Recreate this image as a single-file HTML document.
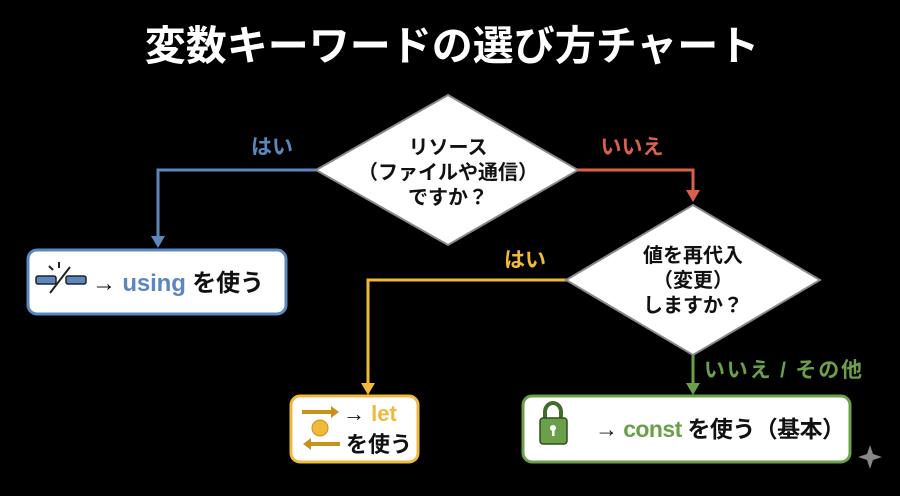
<!DOCTYPE html>
<html><head><meta charset="utf-8"><style>
body{margin:0;background:#000;width:900px;height:491px;overflow:hidden;font-family:"Liberation Sans","Noto Sans CJK JP",sans-serif;}
</style></head><body>
<svg width="900" height="491" xmlns="http://www.w3.org/2000/svg" font-family="Liberation Sans, Noto Sans CJK JP, sans-serif" font-weight="bold">
<text x="452" y="60" fill="#fff" font-size="41" text-anchor="middle">変数キーワードの選び方チャート</text>
<!-- blue -->
<polyline points="318,170 158,170 158,238" fill="none" stroke="#5b87c0" stroke-width="3"/>
<polygon points="151,236 165,236 158,248" fill="#5b87c0"/>
<text x="272" y="154" fill="#5b87c0" font-size="21" text-anchor="middle">はい</text>
<!-- red -->
<polyline points="576,170 693,170 693,192" fill="none" stroke="#d9614c" stroke-width="3"/>
<polygon points="686,190 700,190 693,202" fill="#d9614c"/>
<text x="632" y="154" fill="#d9614c" font-size="21" text-anchor="middle">いいえ</text>
<!-- yellow -->
<polyline points="568,280 368,280 368,385" fill="none" stroke="#f0b93a" stroke-width="3"/>
<polygon points="361,383 375,383 368,395" fill="#f0b93a"/>
<text x="525" y="267" fill="#f0b93a" font-size="21" text-anchor="middle">はい</text>
<!-- green -->
<line x1="693" y1="355" x2="693" y2="385" stroke="#6aa04a" stroke-width="3"/>
<polygon points="686,383 700,383 693,395" fill="#6aa04a"/>
<text x="704" y="377" fill="#6aa04a" font-size="21" textLength="158">いいえ / その他</text>
<!-- diamonds -->
<polygon points="448,95 578,170 448,245 316,170" fill="#fff" stroke="#888" stroke-width="2"/>
<text x="448" y="154" font-size="20" text-anchor="middle" fill="#111">リソース</text>
<text x="448" y="179" font-size="20" text-anchor="middle" fill="#111">（ファイルや通信）</text>
<text x="448" y="204" font-size="20" text-anchor="middle" fill="#111">ですか？</text>
<polygon points="693,205 820,280 693,355 566,280" fill="#fff" stroke="#888" stroke-width="2"/>
<text x="693" y="262" font-size="20" text-anchor="middle" fill="#111">値を再代入</text>
<text x="693" y="287" font-size="20" text-anchor="middle" fill="#111">（変更）</text>
<text x="693" y="312" font-size="20" text-anchor="middle" fill="#111">しますか？</text>
<!-- using box -->
<rect x="28" y="250" width="258" height="64" rx="9" fill="#fff" stroke="#5b87c0" stroke-width="3"/>
<rect x="36" y="276" width="20" height="8" rx="2" fill="#5b87c0" stroke="#222" stroke-width="1.5"/>
<rect x="66" y="276" width="20" height="8" rx="2" fill="#5b87c0" stroke="#222" stroke-width="1.5"/>
<line x1="70" y1="267" x2="50" y2="293" stroke="#222" stroke-width="2"/>
<line x1="59" y1="262" x2="59" y2="268" stroke="#222" stroke-width="2"/>
<line x1="49" y1="266" x2="53" y2="270" stroke="#222" stroke-width="2"/>
<text x="92" y="291" font-size="24" fill="#111" textLength="172">→ <tspan fill="#5b87c0">using</tspan> を使う</text>
<!-- let box -->
<rect x="291" y="396" width="127" height="66" rx="9" fill="#fff" stroke="#f0b93a" stroke-width="3"/>
<line x1="302" y1="412" x2="333" y2="412" stroke="#c8921a" stroke-width="4"/>
<polygon points="331,406 339,412 331,418" fill="#c8921a"/>
<circle cx="320" cy="428" r="8" fill="#f0b93a" stroke="#c8921a"/>
<line x1="309" y1="444" x2="340" y2="444" stroke="#c8921a" stroke-width="4"/>
<polygon points="311,438 303,444 311,450" fill="#c8921a"/>
<text x="343" y="421" font-size="22" fill="#111">→ <tspan fill="#f0b93a">let</tspan></text>
<text x="346" y="452" font-size="22" fill="#111">を使う</text>
<!-- const box -->
<rect x="523" y="396" width="327" height="66" rx="9" fill="#fff" stroke="#6aa04a" stroke-width="3"/>
<path d="M545,418 v-6 a8,9 0 0 1 16,0 v6" fill="none" stroke="#3f6e2c" stroke-width="4"/>
<rect x="540" y="418" width="27" height="26" rx="3" fill="#6aa04a" stroke="#2d4f20" stroke-width="1.5"/>
<circle cx="553" cy="428" r="3" fill="#fff"/><rect x="552" y="429" width="2.5" height="7" fill="#fff"/>
<text x="595" y="437" font-size="23" fill="#111" textLength="250">→ <tspan fill="#6aa04a">const</tspan> を使う（基本）</text>
<path d="M870,445 l3,9 9,3 -9,3 -3,9 -3,-9 -9,-3 9,-3z" fill="#888"/>
</svg>
</body></html>
